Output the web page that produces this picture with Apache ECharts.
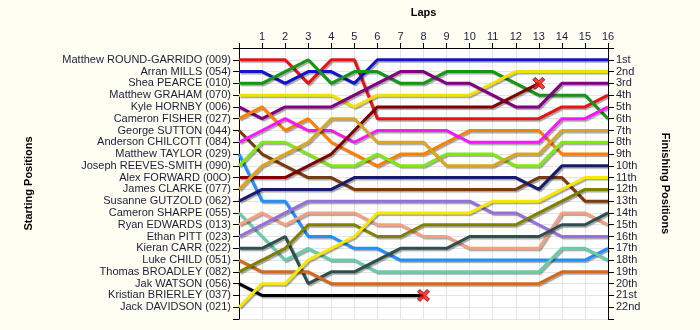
<!DOCTYPE html>
<html>
<head>
<meta charset="utf-8">
<script src="https://cdn.jsdelivr.net/npm/echarts@6/dist/echarts.min.js"></script>
<style>
  html, body { margin: 0; padding: 0; background: #fefef2; }
  #chart { width: 700px; height: 330px; }
</style>
</head>
<body>
<div id="chart"></div>
<script>
// Starting grid, in order (position 1 first)
const drivers = [
  'Matthew ROUND-GARRIDO (009)', 'Arran MILLS (054)', 'Shea PEARCE (010)',
  'Matthew GRAHAM (070)', 'Kyle HORNBY (006)', 'Cameron FISHER (027)',
  'George SUTTON (044)', 'Anderson CHILCOTT (084)', 'Matthew TAYLOR (029)',
  'Joseph REEVES-SMITH (090)', 'Alex FORWARD (00O)', 'James CLARKE (077)',
  'Susanne GUTZOLD (062)', 'Cameron SHARPE (055)', 'Ryan EDWARDS (013)',
  'Ethan PITT (023)', 'Kieran CARR (022)', 'Luke CHILD (051)',
  'Thomas BROADLEY (082)', 'Jak WATSON (056)', 'Kristian BRIERLEY (037)',
  'Jack DAVIDSON (021)'
];

const finishLabels = ['1st','2nd','3rd','4th','5th','6th','7th','8th','9th','10th','11th',
  '12th','13th','14th','15th','16th','17th','18th','19th','20th','21st','22nd'];

const lapNumbers = [0,1,2,3,4,5,6,7,8,9,10,11,12,13,14,15,16];

// Position at the end of each lap (lap 0 = grid). Shorter arrays = retired.
const roundGarrido = [1,1,1,3,1,1,6,6,6,6,6,6,6,6,5,5,4];
const mills        = [2,2,3,2,2,3,1,1,1,1,1,1,1,1,1,1,1];
const pearce       = [3,3,2,1,3,2,2,3,3,2,2,2,3,4,4,4,6];
const graham       = [4,4,4,4,4,5,4,4,4,4,4,3,2,2,2,2,2];
const hornby       = [5,6,5,5,5,4,3,2,2,3,3,4,5,5,3,3,3];
const fisher       = [6,5,7,6,8,9,10,9,9,8,7,7,7,7,9,9,9];
const sutton       = [7,9,10,11,11,12,12,12,12,12,12,12,12,11,11,13,13];
const chilcott     = [8,7,6,7,7,8,7,7,7,7,8,8,8,8,6,6,5];
const taylor       = [9,13,13,16,16,17,17,18,18,18,18,18,18,18,18,18,17];
const reevesSmith  = [10,8,8,9,10,10,9,10,10,9,9,9,10,10,8,8,8];
const forward      = [11,11,11,10,9,7,5,5,5,5,5,5,4,3];
const clarke       = [12,10,9,8,6,6,8,8,8,10,10,10,9,9,7,7,7];
const gutzold      = [13,12,12,12,12,11,11,11,11,11,11,11,11,12,10,10,10];
const sharpe       = [14,16,18,17,18,18,19,19,19,19,19,19,19,19,17,17,18];
const edwards      = [15,14,15,14,14,14,15,15,16,16,17,17,17,17,14,14,15];
const pitt         = [16,15,14,13,13,13,13,13,13,13,13,14,14,15,16,16,16];
const carr         = [17,17,16,20,19,19,18,17,17,17,16,16,16,16,15,15,14];
const child        = [18,19,19,19,20,20,20,20,20,20,20,20,20,20,19,19,19];
const broadley     = [19,18,17,15,15,15,16,16,15,15,15,15,15,14,13,12,12];
const watson       = [20,21,21,21,21,21,21,21,21];
const brierley     = null; // did not start
const davidson     = [22,20,20,18,17,16,14,14,14,14,14,13,13,13,12,11,11];

const lapTables = [roundGarrido, mills, pearce, graham, hornby, fisher, sutton,
  chilcott, taylor, reevesSmith, forward, clarke, gutzold, sharpe, edwards, pitt,
  carr, child, broadley, watson, brierley, davidson];

const palette = ['#e81414', '#1414c8', '#169616', '#f2e000', '#800080', '#ff8000',
  '#7a3c0c', '#ff14ff', '#1e90ff', '#80e614', '#800000', '#daa520', '#1a1a6e',
  '#66cdaa', '#f5a080', '#9370db', '#2f4f4f', '#d2691e', '#808000', '#000000',
  '#999999', '#f8e800'];

const lastLap = lapNumbers[lapNumbers.length - 1];
const series = [];
const retirements = [];
lapTables.forEach((laps, i) => {
  if (!laps) return;
  series.push({
    type: 'line',
    name: drivers[i],
    data: laps.map((p, lap) => [lapNumbers[lap], p]),
    symbol: 'none',
    silent: true,
    z: 3,
    lineStyle: {
      color: palette[i], width: 3,
      shadowColor: 'rgba(0,0,0,0.35)', shadowOffsetX: 1.5, shadowOffsetY: 1.5, shadowBlur: 1
    }
  });
  if (laps.length - 1 < lastLap) {
    retirements.push([laps.length - 1, laps[laps.length - 1]]);
  }
});

series.push({
  type: 'scatter',
  data: retirements,
  symbol: 'path://M2,0 L5,3 L8,0 L10,2 L7,5 L10,8 L8,10 L5,7 L2,10 L0,8 L3,5 L0,2 Z',
  symbolSize: 12,
  z: 5,
  silent: true,
  itemStyle: { color: '#ff1010', borderColor: '#700000', borderWidth: 1 }
});

const labelFont = { fontFamily: 'Liberation Sans, Arial, sans-serif', fontSize: 11, color: '#1c1c3a' };
const titleFont = { fontFamily: 'Liberation Sans, Arial, sans-serif', fontSize: 11, fontWeight: 'bold', color: '#000' };

const chart = echarts.init(document.getElementById('chart'), null, { renderer: 'canvas' });
chart.setOption({
  animation: false,
  backgroundColor: '#fefef2',
  grid: { left: 239, right: 92, top: 48, bottom: 11, show: true, backgroundColor: '#ffffff', borderWidth: 0 },
  xAxis: {
    type: 'value', position: 'top', min: 0, max: 16, interval: 1, offset: 2,
    name: 'Laps', nameLocation: 'middle', nameGap: 28, nameTextStyle: titleFont,
    axisLine: { show: true, lineStyle: { color: '#000', width: 1 } },
    axisTick: { show: true, length: 5, lineStyle: { color: '#000' } },
    axisLabel: Object.assign({ margin: 4, formatter: v => v === 0 ? '' : String(v) }, labelFont),
    splitLine: { show: true, lineStyle: { color: '#e4e4e4', width: 1 } }
  },
  yAxis: [
    {
      type: 'value', inverse: true, position: 'left', min: 0, max: 23, interval: 1,
      name: 'Starting Positions', nameLocation: 'middle', nameGap: 205, nameTextStyle: titleFont,
      axisLine: { show: true, lineStyle: { color: '#000', width: 1 } },
      axisTick: { show: true, length: 6, lineStyle: { color: '#000' } },
      axisLabel: Object.assign({ margin: 8, formatter: v => (v >= 1 && v <= drivers.length) ? drivers[v - 1] : '' }, labelFont),
      splitLine: { show: true, lineStyle: { color: '#e4e4e4', width: 1 } }
    },
    {
      type: 'value', inverse: true, position: 'right', min: 0, max: 23, interval: 1,
      name: 'Finishing Positions', nameLocation: 'middle', nameGap: 52, nameRotate: -90, nameTextStyle: titleFont,
      axisLine: { show: true, lineStyle: { color: '#000', width: 1 } },
      axisTick: { show: true, length: 6, lineStyle: { color: '#000' } },
      axisLabel: Object.assign({ margin: 8, formatter: v => (v >= 1 && v <= finishLabels.length) ? finishLabels[v - 1] : '' }, labelFont),
      splitLine: { show: false }
    }
  ],
  series: series
});
</script>
</body>
</html>
